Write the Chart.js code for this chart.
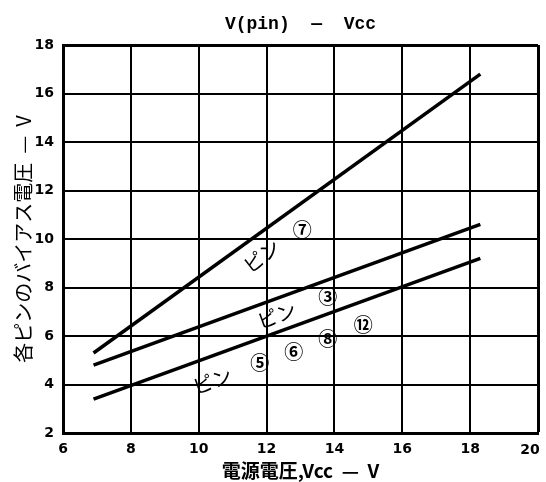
<!DOCTYPE html>
<html>
<head>
<meta charset="utf-8">
<script src="https://cdn.jsdelivr.net/npm/chart.js@4.4.0/dist/chart.umd.min.js"></script>
<style>
  html, body { margin: 0; padding: 0; background: #fff; }
  #wrap { width: 546px; height: 482px; }
</style>
</head>
<body>
<div id="wrap"><canvas id="biasChart" width="546" height="482"></canvas></div>
<script>
// values (Vcc in V, bias voltage in V)
const vccPoints = [6.9, 18.3];
const pin7 = [5.3, 16.8];
const pin3 = [4.8, 10.6];
const pin5 = [3.4, 9.2];

const xTicks = [6, 8, 10, 12, 14, 16, 18, 20];
const yTicks = [2, 4, 6, 8, 10, 12, 14, 16, 18];

// label text and where it sits (data coords), with rotation in degrees
const noteText = ['ピン', '⑦', 'ピン', '③', 'ピン', '⑤', '⑥', '⑧', '⑫'];
const noteX = [11.85, 13.05, 12.3, 13.8, 10.4, 11.8, 12.8, 13.8, 14.85];
const noteY = [9.3, 10.4, 6.85, 7.6, 4.15, 4.9, 5.35, 5.9, 6.45];
const noteRot = [-38, 0, -20, 0, -20, 0, 0, 0, 0];

function toXY(ys) {
    return vccPoints.map((x, i) => ({ x: x, y: ys[i] }));
}

const lineStyle = {
    borderColor: '#000',
    borderWidth: 3.5,
    pointRadius: 0,
    fill: false,
    tension: 0
};

const notes = {
    id: 'notes',
    afterDatasetsDraw(chart) {
        const ctx = chart.ctx;
        const xs = chart.scales.x, ys = chart.scales.y;
        ctx.save();
        ctx.fillStyle = '#000';
        ctx.textAlign = 'center';
        ctx.textBaseline = 'middle';
        for (let i = 0; i < noteText.length; i++) {
            ctx.save();
            ctx.translate(xs.getPixelForValue(noteX[i]), ys.getPixelForValue(noteY[i]));
            ctx.rotate(noteRot[i] * Math.PI / 180);
            ctx.font = noteText[i].length > 1 ? '20px "Noto Sans CJK JP"' : 'bold 19px "Noto Sans CJK JP"';
            ctx.fillText(noteText[i], 0, 0);
            ctx.restore();
        }
        // last x tick label, pulled inside the canvas
        const last = xTicks[xTicks.length - 1];
        ctx.font = 'bold 14px "DejaVu Sans"';
        ctx.textBaseline = 'top';
        ctx.fillText(String(last), xs.getPixelForValue(last) - 8, chart.chartArea.bottom + 10);
        // title over the plot
        const a = chart.chartArea;
        ctx.textBaseline = 'middle';
        ctx.font = 'bold 18px "Liberation Mono"';
        ctx.fillText('V(pin)  —  Vcc', (a.left + a.right) / 2, 24);
        ctx.restore();
    }
};

const ctx = document.getElementById('biasChart').getContext('2d');

new Chart(ctx, {
    type: 'line',
    data: {
        datasets: [
            Object.assign({ label: 'ピン⑦', data: toXY(pin7) }, lineStyle),
            Object.assign({ label: 'ピン③', data: toXY(pin3) }, lineStyle),
            Object.assign({ label: 'ピン⑤⑥⑧⑫', data: toXY(pin5) }, lineStyle)
        ]
    },
    options: {
        responsive: false,
        animation: false,
        layout: { padding: { left: 0, right: 0, top: 45, bottom: 0 } },
        plugins: {
            legend: { display: false },
            tooltip: { enabled: false }
        },
        scales: {
            x: {
                type: 'linear',
                min: 6,
                max: 20,
                afterBuildTicks: s => { s.ticks = xTicks.map(v => ({ value: v })); },
                afterFit: s => { s.height = 49; s.paddingRight = 8; },
                grid: {
                    color: '#000',
                    lineWidth: c => (c.tick && c.tick.value === 20 ? 3 : 2),
                    drawTicks: false
                },
                border: { color: '#000', width: 3 },
                ticks: {
                    color: '#000',
                    padding: 8,
                    font: { family: 'DejaVu Sans', size: 14, weight: 'bold' },
                    callback: v => (v === xTicks[xTicks.length - 1] ? '' : String(v))
                },
                title: {
                    display: true,
                    text: '電源電圧,Vcc  —  V',
                    color: '#000',
                    padding: { top: 0, bottom: 0 },
                    font: { family: 'Noto Sans CJK JP', size: 19, weight: 'bold' }
                }
            },
            y: {
                min: 2,
                max: 18,
                afterBuildTicks: s => { s.ticks = yTicks.map(v => ({ value: v })); },
                afterFit: s => { s.width = 63; },
                grid: {
                    color: '#000',
                    lineWidth: c => (c.tick && c.tick.value === 18 ? 3 : 2),
                    drawTicks: false
                },
                border: { color: '#000', width: 3 },
                ticks: {
                    color: '#000',
                    padding: 9,
                    font: { family: 'DejaVu Sans', size: 14, weight: 'bold' }
                },
                title: {
                    display: true,
                    text: '各ピンのバイアス電圧  —  V',
                    color: '#000',
                    padding: { top: 11, bottom: 0 },
                    font: { family: 'Noto Sans CJK JP', size: 20 }
                }
            }
        }
    },
    plugins: [notes]
});
</script>
</body>
</html>
